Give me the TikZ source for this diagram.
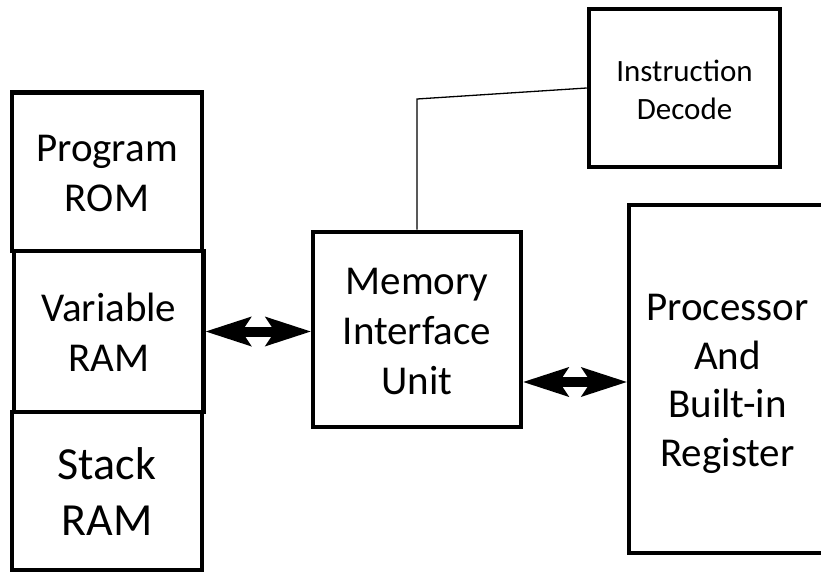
\documentclass[tikz,border=0pt]{standalone}
\usepackage{fontspec}
\setmainfont{Carlito}
\usetikzlibrary{arrows.meta,calc}

% centred stack of lines; extra head room sets the lines a little below the box centre
\newcommand{\boxlines}[1]{\raisebox{0pt}[\dimexpr\height+10bp\relax][\depth]{\begin{tabular}{@{}c@{}}#1\end{tabular}}}

\tikzset{
  block/.style={draw=black, line width=4.5bp, fill=white,
    inner sep=0pt, font=\fontsize{41bp}{50bp}\selectfont},
  bigtext/.style={font=\fontsize{46bp}{56bp}\selectfont},
  smalltext/.style={font=\fontsize{31bp}{38bp}\selectfont},
  proctext/.style={font=\fontsize{41bp}{48.5bp}\selectfont},
  wire/.style={draw=black, line width=1.3bp},
  busarrow/.style={draw=black, line width=10bp,
    {Stealth[length=46bp, width=30bp, inset=10bp, line width=0pt]}-{Stealth[length=46bp, width=30bp, inset=10bp, line width=0pt]}},
}

\begin{document}
\begin{tikzpicture}[x=1bp, y=-1bp]
  \useasboundingbox (0,0) rectangle (821,573);

  % memory column
  \node[block, minimum width=190bp, minimum height=158.5bp] (rom) at (107,171.75) {\boxlines{Program\\ROM}};
  \node[block, minimum width=189.5bp, minimum height=161bp] (var) at (108.75,331.5) {\boxlines{Variable\\RAM}};
  \node[block, bigtext, minimum width=190bp, minimum height=158bp] (stack) at (107,491) {\boxlines{Stack\\RAM}};

  % interface, decoder and processor
  \node[block, minimum width=208bp, minimum height=195bp] (mem) at (417,329.5) {\boxlines{Memory\\Interface\\Unit}};
  \node[block, smalltext, minimum width=191bp, minimum height=158bp] (dec) at (684.5,88) {\boxlines{Instruction\\Decode}};
  \node[block, proctext, minimum width=197bp, minimum height=348bp] (proc) at (727.5,379) {\boxlines{Processor\\And\\Built-in\\Register}};

  % control line to the decoder
  \coordinate (bend) at (417,99);
  \draw[wire] (mem.north) -- (bend) -- (dec.west);

  % data buses
  \draw[busarrow] (var.east) -- (var.east -| mem.west);
  \draw[busarrow] ([yshift=-3bp]proc.west -| mem.east) -- ([yshift=-3bp]proc.west);
\end{tikzpicture}
\end{document}
